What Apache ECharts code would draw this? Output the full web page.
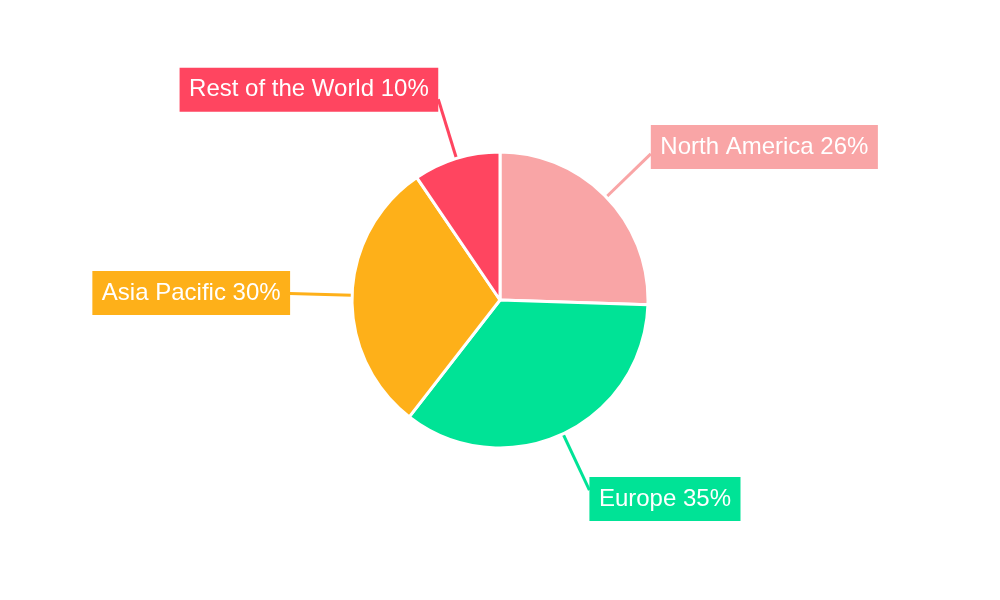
<!DOCTYPE html>
<html>
<head>
<meta charset="utf-8">
<style>html,body{margin:0;padding:0;background:#fff}#c{width:1000px;height:600px}</style>
<script src="https://cdn.jsdelivr.net/npm/echarts@6/dist/echarts.min.js"></script>
</head>
<body>
<div id="c"></div>
<script>
const categories = ["North America", "Europe", "Asia Pacific", "Rest of the World"];
const values = [25.5, 35, 30, 9.5];
const colors = ["#f9a5a6", "#00e396", "#feb019", "#ff4560"];

const CX = 500, CY = 300, R = 148;
const total = values.reduce((a, b) => a + b, 0);
// mid angle of each slice, measured clockwise from 12 o'clock
const midAngles = [];
{ let acc = 0; values.forEach(v => { midAngles.push((acc + v / 2) / total * 2 * Math.PI); acc += v; }); }

const chart = echarts.init(document.getElementById('c'), null, {renderer: 'canvas'});
chart.setOption({
  animation: false,
  backgroundColor: '#ffffff',
  series: [{
    type: 'pie',
    center: [CX, CY],
    radius: R,
    startAngle: 90,
    clockwise: true,
    data: categories.map((n, i) => ({name: n, value: values[i], itemStyle: {color: colors[i]}})),
    itemStyle: {borderColor: '#ffffff', borderWidth: 3},
    label: {
      show: true,
      formatter: p => p.name + ' ' + Math.round(p.percent) + '%',
      color: '#ffffff',
      fontFamily: 'Liberation Sans, Arial, sans-serif',
      fontSize: 24,
      lineHeight: 24,
      padding: [10, 9.5],
      backgroundColor: 'inherit'
    },
    labelLine: {show: true, length: 55, length2: 0, smooth: false, lineStyle: {width: 3}},
    labelLayout: function (p) {
      const a = midAngles[p.dataIndex];
      const sx = Math.sin(a), cy = -Math.cos(a);
      const ax = CX + sx * 210, ay = CY + cy * 220;
      const w = p.labelRect.width, h = p.labelRect.height;
      const left = sx >= 0 ? ax : ax - w, top = ay - h / 2;
      const start = [CX + sx * R, CY + cy * R];
      let end = start.slice();
      for (let t = 0; t < 200; t += 0.5) {
        const px = start[0] + sx * t, py = start[1] + cy * t;
        end = [px, py];
        if (px >= left && px <= left + w && py >= top && py <= top + h) break;
      }
      return {x: ax, y: ay, align: sx >= 0 ? 'left' : 'right', verticalAlign: 'middle',
              labelLinePoints: [start, start, end]};
    },
    emphasis: {disabled: true}
  }]
});
</script>
</body>
</html>
